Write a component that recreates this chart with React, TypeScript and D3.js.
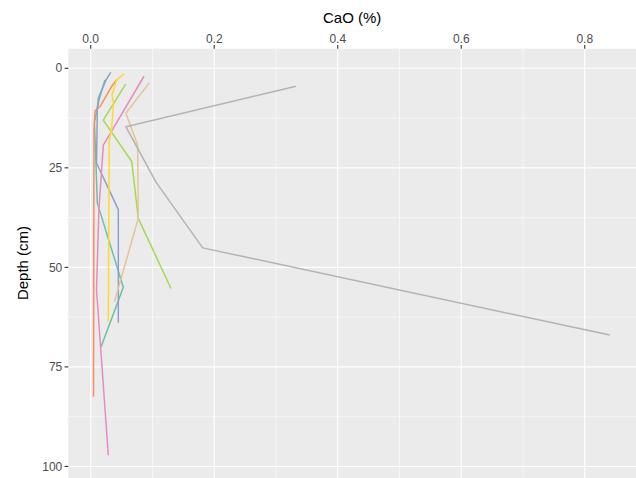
import React from "react";
import * as d3 from "d3";

const xTicks = [0, 0.2, 0.4, 0.6, 0.8];
const xMinor = [0.1, 0.3, 0.5, 0.7];
const yTicks = [0, 25, 50, 75, 100];
const yMinor = [12.5, 37.5, 62.5, 87.5];

const seriesNames = ["A", "B", "C", "D", "E", "F", "G", "H"];
const seriesColors = ["#66C2A5", "#FC8D62", "#8DA0CB", "#E78AC3", "#A6D854", "#FFD92F", "#E5C494", "#B3B3B3"];

const tealDepth = [2.9, 8, 13.5, 24.3, 33.8, 55, 70];
const tealCaO = [0.023, 0.0134, 0.006, 0.0086, 0.0106, 0.0528, 0.0167];
const orangeDepth = [2.8, 4.4, 9.6, 10.7, 15.5, 82.5];
const orangeCaO = [0.0426, 0.0345, 0.015, 0.007, 0.0053, 0.0045];
const blueDepth = [1.0, 2.9, 7.5, 10, 23.8, 35.5, 63.9];
const blueCaO = [0.0324, 0.0248, 0.0124, 0.0107, 0.0094, 0.0447, 0.0447];
const pinkDepth = [2, 19.3, 35.6, 55.7, 97.2];
const pinkCaO = [0.0863, 0.0204, 0.0132, 0.0094, 0.0285];
const greenDepth = [4, 13, 23.4, 37.7, 55.3];
const greenCaO = [0.0566, 0.0204, 0.0664, 0.077, 0.13];
const yellowDepth = [1.4, 2.9, 6.7, 8.7, 15.5, 18, 63.7];
const yellowCaO = [0.054, 0.042, 0.0345, 0.037, 0.0337, 0.03, 0.0285];
const tanDepth = [3.6, 11.3, 19.3, 37.7, 58.6];
const tanCaO = [0.095, 0.057, 0.076, 0.077, 0.0385];
const grayDepth = [4.5, 14.7, 28.6, 45.1, 67];
const grayCaO = [0.3324, 0.0571, 0.1057, 0.1813, 0.8406];

const allDepths = [tealDepth, orangeDepth, blueDepth, pinkDepth, greenDepth, yellowDepth, tanDepth, grayDepth];
const allCaO = [tealCaO, orangeCaO, blueCaO, pinkCaO, greenCaO, yellowCaO, tanCaO, grayCaO];

const W = 636;
const H = 478;
const panel = { left: 68.3, top: 48.7, right: 636, bottom: 478 };

export default function App() {
  const x = d3.scaleLinear().domain([-0.0363, 0.883]).range([panel.left, panel.right]);
  const y = d3.scaleLinear().domain([-4.92, 102.9]).range([panel.top, panel.bottom]);
  const line = d3
    .line<[number, number]>()
    .x((d) => x(d[0]))
    .y((d) => y(d[1]));

  const series = seriesNames.map((name, i) => ({
    name,
    color: seriesColors[i],
    pts: allDepths[i].map((dep, j) => [allCaO[i][j], dep] as [number, number]),
  }));

  const font = "'Liberation Sans', Arial, Helvetica, sans-serif";

  return (
    <svg width={W} height={H} style={{ position: "absolute", left: 0, top: 0, display: "block" }}>
      <rect x={0} y={0} width={W} height={H} fill="#ffffff" />
      <defs>
        <clipPath id="panelClip">
          <rect x={panel.left} y={panel.top} width={panel.right - panel.left} height={panel.bottom - panel.top} />
        </clipPath>
      </defs>
      <rect
        x={panel.left}
        y={panel.top}
        width={panel.right - panel.left}
        height={panel.bottom - panel.top}
        fill="#EBEBEB"
      />
      {xMinor.map((t) => (
        <line key={"xm" + t} x1={x(t)} x2={x(t)} y1={panel.top} y2={panel.bottom} stroke="#ffffff" strokeWidth={0.55} />
      ))}
      {yMinor.map((t) => (
        <line key={"ym" + t} x1={panel.left} x2={panel.right} y1={y(t)} y2={y(t)} stroke="#ffffff" strokeWidth={0.55} />
      ))}
      {xTicks.map((t) => (
        <line key={"xM" + t} x1={x(t)} x2={x(t)} y1={panel.top} y2={panel.bottom} stroke="#ffffff" strokeWidth={1.1} />
      ))}
      {yTicks.map((t) => (
        <line key={"yM" + t} x1={panel.left} x2={panel.right} y1={y(t)} y2={y(t)} stroke="#ffffff" strokeWidth={1.1} />
      ))}
      <g clipPath="url(#panelClip)">
        {series.map((s) => (
          <path key={s.name} d={line(s.pts) || ""} fill="none" stroke={s.color} strokeWidth={1.5} strokeLinejoin="round" />
        ))}
      </g>
      {xTicks.map((t) => (
        <g key={"xt" + t}>
          <line x1={x(t)} x2={x(t)} y1={panel.top - 3.7} y2={panel.top} stroke="#333333" strokeWidth={1.1} />
          <text x={x(t)} y={panel.top - 6} textAnchor="middle" fontFamily={font} fontSize={12} fill="#4D4D4D">
            {d3.format(".1f")(t)}
          </text>
        </g>
      ))}
      {yTicks.map((t) => (
        <g key={"yt" + t}>
          <line x1={panel.left - 3.7} x2={panel.left} y1={y(t)} y2={y(t)} stroke="#333333" strokeWidth={1.1} />
          <text x={panel.left - 6} y={y(t)} dy="0.35em" textAnchor="end" fontFamily={font} fontSize={12} fill="#4D4D4D">
            {t}
          </text>
        </g>
      ))}
      <text x={(panel.left + panel.right) / 2} y={23} textAnchor="middle" fontFamily={font} fontSize={15} fill="#000000">
        CaO (%)
      </text>
      <text
        transform={`translate(28, 263) rotate(-90)`}
        textAnchor="middle"
        fontFamily={font}
        fontSize={15}
        fill="#000000"
      >
        Depth (cm)
      </text>
    </svg>
  );
}
